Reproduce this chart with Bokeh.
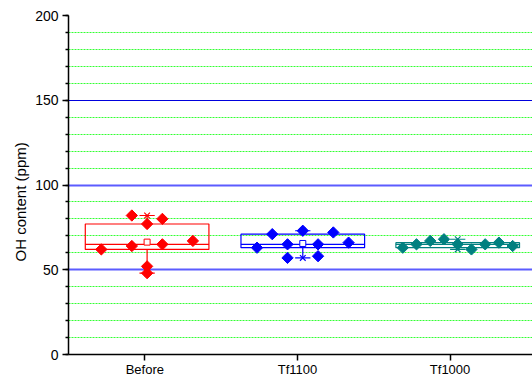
import math
from bokeh.plotting import figure
from bokeh.models import FixedTicker, Grid, Range1d, ColumnDataSource, Title
from bokeh.embed import file_html
from bokeh.resources import INLINE

# ---- data ----
groups = ["Before", "Tf1100", "Tf1000"]
colors = ["#ff0000", "#0000ff", "#008080"]

before_vals = [62, 82, 64, 77, 52, 48, 80, 65, 67]
tf1100_vals = [63, 71, 65, 57, 73, 65, 58, 72, 66]
tf1000_vals = [63, 65, 67, 68, 65, 62, 65, 66, 64]

# box statistics
q1_vals = [62, 63, 63]
median_vals = [65, 65, 65]
q3_vals = [77, 71, 66]
mean_vals = [66.3, 65.5, 65]
min_vals = [48, 57, 62]
max_vals = [82, 73, 68]

# ---- layout (positions of groups and point jitter) ----
group_pos = [1.015, 2.035, 3.05]
jitter = [
    [-0.3, -0.1, -0.1, 0, 0, 0, 0.1, 0.1, 0.3],
    [-0.3, -0.2, -0.1, -0.1, 0, 0.1, 0.1, 0.2, 0.3],
    [-0.36, -0.27, -0.18, -0.09, 0, 0.09, 0.18, 0.27, 0.36],
]
half_w = 0.405
cap_w = 0.05
font = "Liberation Sans"

p = figure(width=532, height=380, x_range=Range1d(0.5, 3.54), y_range=Range1d(0, 200),
           output_backend="svg", toolbar_location=None,
           min_border_left=68, min_border_right=0, min_border_top=15, min_border_bottom=26)
p.outline_line_color = None
p.background_fill_color = "white"

# grids
p.xgrid.visible = False
minor = [v for v in range(10, 200, 10) if v % 50 != 0]
g = p.ygrid[0]
g.ticker = FixedTicker(ticks=[50, 100], minor_ticks=minor)
g.grid_line_color = "#5c5cff"
g.grid_line_width = 2
g.minor_grid_line_color = "#33ff33"
g.minor_grid_line_dash = "2 1"
g.minor_grid_line_width = 1
g2 = Grid(dimension=1, ticker=FixedTicker(ticks=[150]), grid_line_color="#0000dd", grid_line_width=1)
p.add_layout(g2)

# axes
ya = p.yaxis[0]
ya.ticker = FixedTicker(ticks=[0, 50, 100, 150, 200], minor_ticks=list(range(0, 201, 10)))
ya.major_tick_out = 6
ya.major_tick_in = 0
ya.minor_tick_out = 3
ya.minor_tick_in = 0
ya.axis_line_width = 1.5
ya.major_tick_line_width = 1.5
ya.minor_tick_line_width = 1.5
ya.major_label_text_font = font
ya.major_label_text_font_size = "14px"
ya.major_label_text_color = "black"
ya.major_label_standoff = 4

xa = p.xaxis[0]
xa.ticker = FixedTicker(ticks=[1, 2, 3])
xa.major_label_overrides = {1: groups[0], 2: groups[1], 3: groups[2]}
xa.major_tick_out = 6
xa.major_tick_in = 0
xa.minor_tick_line_color = None
xa.axis_line_width = 1.5
xa.major_tick_line_width = 1.5
xa.major_label_text_font = font
xa.major_label_text_font_size = "13px"
xa.major_label_text_color = "black"
xa.major_label_standoff = 1

p.add_layout(Title(text="OH content (ppm)", align="left", offset=93, standoff=8,
                   text_font=font, text_font_size="15px", text_font_style="normal",
                   text_color="black"), "left")

# boxes
bx = ColumnDataSource(dict(
    x=group_pos, l=[v - half_w for v in group_pos], r=[v + half_w for v in group_pos],
    cl=[v - cap_w for v in group_pos], cr=[v + cap_w for v in group_pos],
    q1=q1_vals, q3=q3_vals, med=median_vals, mean=mean_vals, mn=min_vals, mx=max_vals,
    c=colors))
p.quad(left="l", right="r", bottom="q1", top="q3", source=bx, fill_color=None,
       line_color="c", line_width=1.2)
p.segment(x0="l", x1="r", y0="med", y1="med", source=bx, line_color="c", line_width=1.2)
p.segment(x0="x", x1="x", y0="q3", y1="mx", source=bx, line_color="c", line_width=1.2)
p.segment(x0="x", x1="x", y0="q1", y1="mn", source=bx, line_color="c", line_width=1.2)
p.segment(x0="cl", x1="cr", y0="mx", y1="mx", source=bx, line_color="c", line_width=1.2)
p.segment(x0="cl", x1="cr", y0="mn", y1="mn", source=bx, line_color="c", line_width=1.2)
p.scatter(x="x", y="mx", source=bx, marker="x", size=8, line_color="c", line_width=1.2)
p.scatter(x="x", y="mn", source=bx, marker="x", size=8, line_color="c", line_width=1.2)
p.scatter(x="x", y="mean", source=bx, marker="square", size=6, fill_color="white",
          line_color="c", line_width=1)

# points
for vals, pos, jit, col in zip([before_vals, tf1100_vals, tf1000_vals], group_pos, jitter, colors):
    src = ColumnDataSource(dict(x=[pos + j for j in jit], y=vals))
    p.scatter(x="x", y="y", source=src, marker="square", angle=math.pi / 4, size=8,
              fill_color=col, line_color=col)

open("out.html", "w").write(file_html(p, INLINE))
